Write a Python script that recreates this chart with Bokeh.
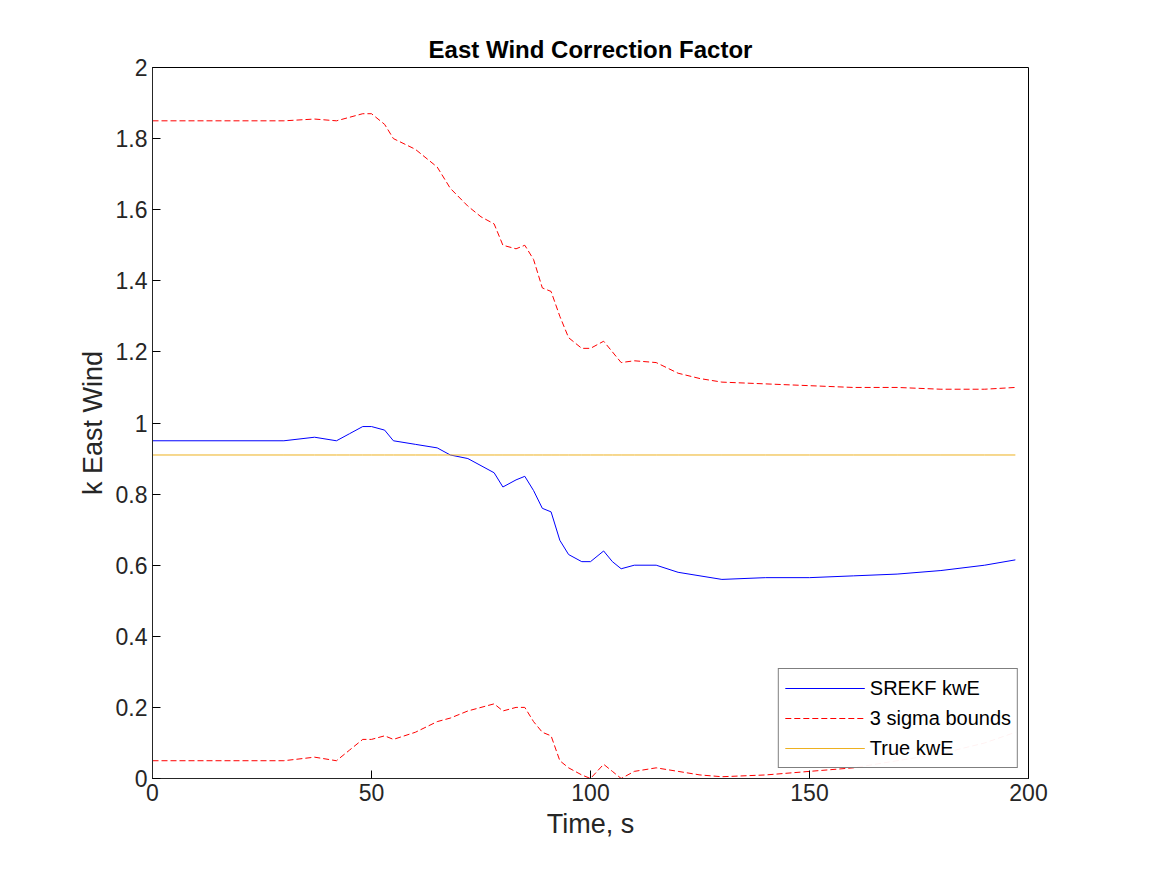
from bokeh.plotting import figure
from bokeh.models import Range1d, SingleIntervalTicker, Legend
from bokeh.embed import file_html
from bokeh.resources import INLINE

t = [0, 30, 37, 42, 45, 48, 50, 53, 55, 60, 65, 68, 72, 75, 78, 80, 83, 85, 87, 89, 91, 93, 95, 98, 100, 103, 105, 107, 110, 115, 120, 125, 130, 140, 150, 160, 170, 180, 190, 197]
srekf = [0.95, 0.95, 0.96, 0.95, 0.97, 0.99, 0.99, 0.98, 0.95, 0.94, 0.93, 0.91, 0.90, 0.88, 0.86, 0.82, 0.84, 0.85, 0.81, 0.76, 0.75, 0.67, 0.63, 0.61, 0.61, 0.64, 0.61, 0.59, 0.60, 0.60, 0.58, 0.57, 0.56, 0.565, 0.565, 0.57, 0.575, 0.585, 0.60, 0.615]
upper = [1.85, 1.85, 1.855, 1.85, 1.86, 1.87, 1.87, 1.84, 1.80, 1.77, 1.72, 1.66, 1.61, 1.58, 1.56, 1.50, 1.49, 1.50, 1.46, 1.38, 1.37, 1.30, 1.24, 1.21, 1.21, 1.23, 1.20, 1.17, 1.175, 1.17, 1.14, 1.125, 1.115, 1.11, 1.105, 1.10, 1.10, 1.095, 1.095, 1.10]
lower = [0.05, 0.05, 0.06, 0.05, 0.08, 0.11, 0.11, 0.12, 0.11, 0.13, 0.16, 0.17, 0.19, 0.20, 0.21, 0.19, 0.20, 0.20, 0.16, 0.13, 0.12, 0.05, 0.03, 0.01, 0.0, 0.04, 0.02, 0.0, 0.02, 0.03, 0.02, 0.01, 0.005, 0.01, 0.02, 0.03, 0.05, 0.07, 0.10, 0.13]
true_kwe = [0.91] * len(t)

F = "Liberation Sans"
p = figure(width=1150, height=858, output_backend="svg", toolbar_location=None,
           x_range=Range1d(0, 200), y_range=Range1d(0, 2),
           min_border_left=152, min_border_right=122, min_border_top=67, min_border_bottom=80,
           title="East Wind Correction Factor")
p.title.text_font = F
p.title.text_font_size = "24px"
p.title.text_font_style = "bold"
p.title.text_color = "black"
p.title.align = "center"
p.grid.visible = False
p.outline_line_color = "black"
p.xaxis.ticker = SingleIntervalTicker(interval=50, num_minor_ticks=0)
p.yaxis.ticker = SingleIntervalTicker(interval=0.2, num_minor_ticks=0)
for ax in (p.xaxis[0], p.yaxis[0]):
    ax.major_tick_in = 8
    ax.major_tick_out = 0
    ax.minor_tick_line_color = None
    ax.major_label_text_font = F
    ax.major_label_text_font_size = "23px"
    ax.major_label_text_color = "#262626"
    ax.axis_label_text_font = F
    ax.axis_label_text_font_size = "27px"
    ax.axis_label_text_font_style = "normal"
    ax.axis_label_text_color = "#262626"
    ax.axis_line_color = "#262626"
p.xaxis.axis_label = "Time, s"
p.yaxis.axis_label = "k East Wind"

r1 = p.line(t, srekf, line_color="blue", line_width=1)
r2 = p.line(t, upper, line_color="red", line_width=1, line_dash="6 3")
p.line(t, lower, line_color="red", line_width=1, line_dash="6 3")
r3 = p.line(t, true_kwe, line_color="#EDB120", line_width=1)

leg = Legend(items=[("SREKF kwE", [r1]), ("3 sigma bounds", [r2]), ("True kwE", [r3])],
             location="bottom_right", label_text_font=F, label_text_font_size="20px",
             label_text_color="black",
             border_line_color="black", glyph_width=80, spacing=4, padding=6, margin=10,
             label_height=26)
p.add_layout(leg)

open("out.html", "w").write(file_html(p, INLINE))
